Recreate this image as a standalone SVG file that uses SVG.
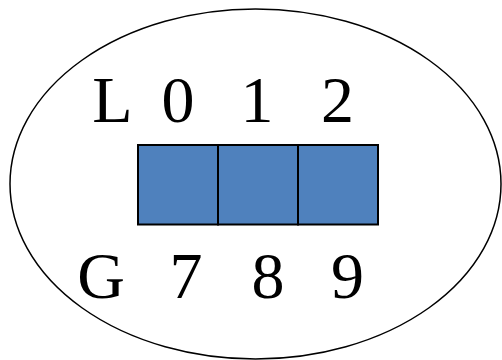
<svg xmlns="http://www.w3.org/2000/svg" width="502" height="360" viewBox="0 0 502 360">
<style>
.cell{fill:#4F81BD;stroke:#000;stroke-width:2}
.t{font-family:"Liberation Serif",serif;font-size:66px;fill:#000;text-anchor:middle}
</style>
<rect width="502" height="360" fill="#fff"/>
<g id="outer"><ellipse cx="255.5" cy="184" rx="245.5" ry="175" fill="none" stroke="#000" stroke-width="1.5"/></g>
<g id="cell0"><rect class="cell" x="138" y="145" width="80" height="79.5"/></g>
<g id="cell1"><rect class="cell" x="218" y="145" width="80" height="79.5"/></g>
<g id="cell2"><rect class="cell" x="298" y="145" width="80" height="79.5"/></g>
<g id="labels-top">
<text class="t" x="112.5" y="122">L</text>
<text class="t" x="178" y="122">0</text>
<text class="t" x="257" y="122">1</text>
<text class="t" x="337.5" y="122">2</text>
</g>
<g id="labels-bottom">
<text class="t" x="101" y="298">G</text>
<text class="t" x="186" y="298">7</text>
<text class="t" x="268" y="298">8</text>
<text class="t" x="347.5" y="298">9</text>
</g>
<g id="connectors"></g>
</svg>
